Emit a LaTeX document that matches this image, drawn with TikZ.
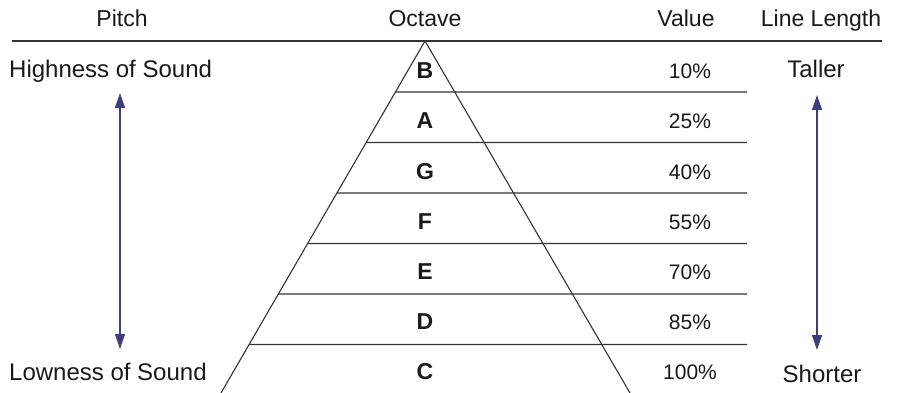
\documentclass[tikz,border=0pt]{standalone}
\usepackage{fontspec}
\setmainfont{Liberation Sans}
\usetikzlibrary{arrows.meta,calc}
\definecolor{ink}{HTML}{333333}
\definecolor{arr}{HTML}{3E3E7C}
\begin{document}
\begin{tikzpicture}[x=1pt,y=-1pt,
  txt/.style={inner sep=0pt,anchor=base,font=\fontsize{23}{27}\selectfont,text=black!90},
  pct/.style={inner sep=0pt,anchor=base,font=\fontsize{21}{25}\selectfont,text=black!90},
  note/.style={inner sep=0pt,anchor=base,font=\fontsize{24}{28}\selectfont,text=black!90},
  lett/.style={inner sep=0pt,anchor=base,font=\fontsize{23}{27}\selectfont\bfseries,text=black!90},
  rule/.style={draw=ink,line width=1.1pt},
  dbl/.style={draw=arr,line width=1.4pt,{Triangle[length=15pt,width=10pt]}-{Triangle[length=15pt,width=10pt]}}]
\useasboundingbox (0,0) rectangle (902,393);
% headers
\node[txt] (hpitch) at (122,27) {Pitch};
\node[txt] (hoct) at (425,27) {Octave};
\node[txt] (hval) at (686,27) {Value};
\node[txt] (hlen) at (821,27) {Line Length};
% top rule
\coordinate (tl) at (12,41);
\coordinate (tr) at (882,41);
\draw[rule] (tl) -- (tr);
% triangle
\coordinate (apex) at (425,41);
\coordinate (bl) at (221,393);
\coordinate (br) at (630,393);
\draw[rule] (bl) -- (apex) -- (br);
% horizontal lines
\foreach \t/\y [count=\i] in {0.1449/92,0.2884/142.5,0.4318/193,0.5753/243.5,0.7188/294,0.8622/344.5}{
  \coordinate (ls\i) at ($(apex)!\t!(bl)$);
  \coordinate (le\i) at (747,\y);
  \draw[rule] (ls\i) -- (le\i);
}
% letters and values
\foreach \l/\v [count=\i from 0] in {B/10\%,A/25\%,G/40\%,F/55\%,E/70\%,D/85\%,C/100\%}{
  \node[lett] (n\l) at (425,79+50*\i) {\l};
  \node[pct] (v\l) at (690,79+50*\i) {\v};
}
% left side
\node[note,anchor=base west] (high) at (9,78) {Highness of Sound};
\node[note,anchor=base west] (low) at (9,380) {Lowness of Sound};
\coordinate (la) at (120,93);
\coordinate (lb) at (120,349);
\draw[dbl] (la) -- (lb);
% right side
\node[note] (tall) at (816,78) {Taller};
\node[note] (short) at (822,382) {Shorter};
\coordinate (ra) at (817,95);
\coordinate (rb) at (817,350);
\draw[dbl] (ra) -- (rb);
\end{tikzpicture}
\end{document}
